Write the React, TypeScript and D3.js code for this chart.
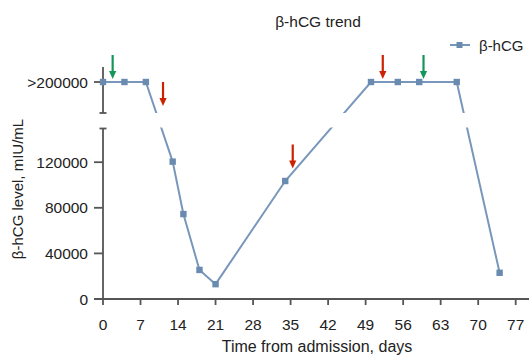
import React from "react";
import * as d3 from "d3";

const days = [0, 4, 8, 13, 15, 18, 21, 34, 50, 55, 59, 66, 74];
// 200000 stands for ">200000" (plotted in the upper, broken panel)
const values = [200000, 200000, 200000, 120500, 74500, 25500, 13000, 103500, 200000, 200000, 200000, 200000, 23000];
const xTicks = [0, 7, 14, 21, 28, 35, 42, 49, 56, 63, 70, 77];
const yTicks = [0, 40000, 80000, 120000];
const upperTickLabel = ">200000";
const arrowsRed = [
  { day: 11.2, tip: 176000 },
  { day: 35.4, tip: 114500 },
  { day: 52.2, tip: 203000 },
];
const arrowsGreen = [
  { day: 1.8, tip: 203000 },
  { day: 59.8, tip: 203000 },
];

const W = 531;
const H = 355;
const LINE = "#7897ba";
const MARK = "#6a8bb0";
const AXIS = "#555555";
const TXT = "#222222";
const RED = "#cc2200";
const GREEN = "#14965a";
const FONT = "'Liberation Sans', Arial, Helvetica, sans-serif";

export default function App() {
  const x = d3.scaleLinear().domain([0, 77]).range([103, 515.7]);
  const yLower = d3.scaleLinear().domain([0, 150000]).range([299, 128]);
  const yUpper = d3.scaleLinear().domain([169000, 215000]).range([113, 67]);
  const y = (v: number) => (v >= 160000 ? yUpper(v) : yLower(v));

  const pts: [number, number][] = days.map((d, i) => [x(d), y(values[i])]);
  const line = d3.line<[number, number]>()(pts) || "";

  const arrow = (a: { day: number; tip: number }, color: string, k: string) => {
    const ax = x(a.day);
    const ty = y(a.tip);
    return (
      <g key={k}>
        <line x1={ax} x2={ax} y1={ty - 24} y2={ty - 6} stroke={color} strokeWidth={2.2} />
        <path d={`M${ax - 3.6},${ty - 8} L${ax + 3.6},${ty - 8} L${ax},${ty} Z`} fill={color} />
      </g>
    );
  };

  return (
    <svg width={W} height={H} style={{ position: "absolute", left: 0, top: 0, background: "#fff" }} fontFamily={FONT}>
      <defs>
        <clipPath id="clipUpper">
          <rect x={0} y={0} width={W} height={113} />
        </clipPath>
        <clipPath id="clipLower">
          <rect x={0} y={127.5} width={W} height={H} />
        </clipPath>
      </defs>

      {/* Title */}
      <text x={318} y={27} textAnchor="middle" fontSize={15.5} fill={TXT}>β-hCG trend</text>

      {/* Legend */}
      <line x1={450} x2={470} y1={45} y2={45} stroke={LINE} strokeWidth={2} />
      <rect x={456.5} y={42} width={6} height={6} fill={MARK} />
      <text x={479} y={50.5} fontSize={15} fill={TXT}>β-hCG</text>

      {/* Upper axis segment */}
      <line x1={103} x2={103} y1={67} y2={113} stroke={AXIS} strokeWidth={1.8} />
      <line x1={99.5} x2={106.5} y1={113} y2={113} stroke={AXIS} strokeWidth={1.8} />
      <line x1={94} x2={103} y1={yUpper(200000)} y2={yUpper(200000)} stroke={AXIS} strokeWidth={1.8} />
      <text x={88} y={yUpper(200000) + 5.5} textAnchor="end" fontSize={15.5} fill={TXT}>{upperTickLabel}</text>

      {/* Lower y axis */}
      <line x1={103} x2={103} y1={128} y2={299} stroke={AXIS} strokeWidth={1.8} />
      <line x1={99.5} x2={106.5} y1={128.5} y2={128.5} stroke={AXIS} strokeWidth={1.8} />
      {yTicks.map((t) => (
        <g key={t}>
          <line x1={94} x2={103} y1={yLower(t)} y2={yLower(t)} stroke={AXIS} strokeWidth={1.8} />
          <text x={88} y={yLower(t) + 5.5} textAnchor="end" fontSize={15.5} fill={TXT}>{t}</text>
        </g>
      ))}

      {/* X axis */}
      <line x1={94} x2={529} y1={299} y2={299} stroke={AXIS} strokeWidth={1.8} />
      {xTicks.map((t) => (
        <g key={t}>
          <line x1={x(t)} x2={x(t)} y1={299} y2={305} stroke={AXIS} strokeWidth={1.8} />
          <text x={x(t)} y={329.5} textAnchor="middle" fontSize={15.5} fill={TXT}>{t}</text>
        </g>
      ))}
      <text x={317} y={352} textAnchor="middle" fontSize={16} fill={TXT}>Time from admission, days</text>
      <text transform={`translate(23,189) rotate(-90)`} textAnchor="middle" fontSize={15} fill={TXT}>β-hCG level, mIU/mL</text>

      {/* Data line, broken at axis gap */}
      <g fill="none" stroke={LINE} strokeWidth={2}>
        <path d={line} clipPath="url(#clipUpper)" />
        <path d={line} clipPath="url(#clipLower)" />
      </g>
      {pts.map((p, i) => (
        <rect key={i} x={p[0] - 3.2} y={p[1] - 3.2} width={6.4} height={6.4} fill={MARK} />
      ))}

      {arrowsRed.map((a, i) => arrow(a, RED, "r" + i))}
      {arrowsGreen.map((a, i) => arrow(a, GREEN, "g" + i))}
    </svg>
  );
}
